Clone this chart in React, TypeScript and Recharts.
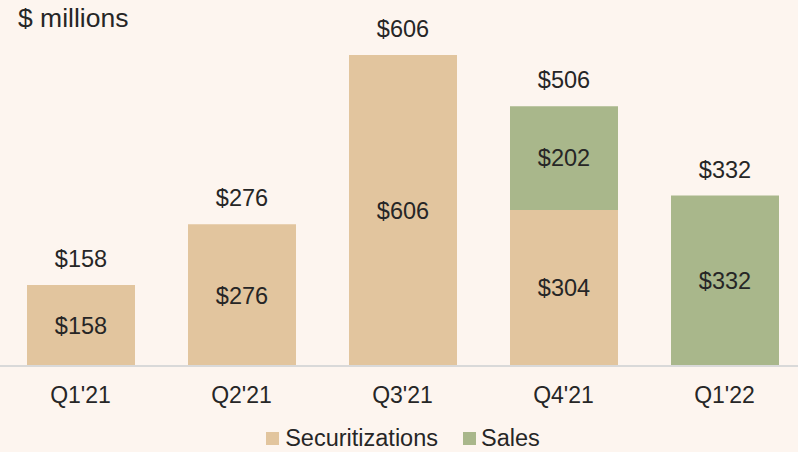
import React from 'react';
import { BarChart, Bar, XAxis, YAxis, LabelList, Legend } from 'recharts';

const categories = ["Q1'21", "Q2'21", "Q3'21", "Q4'21", "Q1'22"];
const securitizations: (number | null)[] = [158, 276, 606, 304, null];
const sales: (number | null)[] = [null, null, null, 202, 332];

const SEC_COLOR = '#e2c59e';
const SALES_COLOR = '#a9b78b';
const TEXT_COLOR = '#262626';
const FONT = '"Liberation Sans", Arial, sans-serif';

const data = categories.map((c, i) => {
  const s = securitizations[i];
  const sa = sales[i];
  const total = (s ?? 0) + (sa ?? 0);
  return {
    name: c,
    securitizations: s,
    sales: sa,
    secTop: sa == null ? total : undefined,
    salesTop: sa != null ? total : undefined,
  };
});

const fmt = (v: any) => (v == null ? '' : `$${v}`);

const LegendContent = () => (
  <div
    style={{
      display: 'flex',
      justifyContent: 'center',
      alignItems: 'center',
      fontFamily: FONT,
      fontSize: 23.5,
      lineHeight: '24px',
      color: TEXT_COLOR,
    }}
  >
    <span style={{ display: 'inline-block', width: 13, height: 13, background: SEC_COLOR, marginRight: 6 }} />
    <span style={{ marginRight: 25 }}>Securitizations</span>
    <span style={{ display: 'inline-block', width: 13, height: 13, background: SALES_COLOR, marginRight: 5 }} />
    <span>Sales</span>
  </div>
);

export default function App() {
  return (
    <div
      style={{
        position: 'absolute',
        left: 0,
        top: 0,
        width: 798,
        height: 452,
        overflow: 'hidden',
        background: '#fdf5ef',
      }}
    >
      <div
        style={{
          position: 'absolute',
          left: 18,
          top: 3,
          fontFamily: FONT,
          fontSize: 26.5,
          lineHeight: '30px',
          color: TEXT_COLOR,
          whiteSpace: 'nowrap',
        }}
      >
        $ millions
      </div>
      <BarChart
        width={805}
        height={452}
        data={data}
        margin={{ top: 55, right: 0, bottom: 56, left: 0 }}
        barSize={108}
        style={{ fontFamily: FONT }}
      >
        <XAxis
          dataKey="name"
          axisLine={{ stroke: '#d9d9d9', strokeWidth: 2 }}
          tickLine={false}
          tickSize={0}
          tickMargin={21}
          tick={{ fill: TEXT_COLOR, fontSize: 23, fontFamily: FONT }}
          interval={0}
        />
        <YAxis hide domain={[0, 606]} />
        <Legend
          verticalAlign="middle"
          align="center"
          layout="horizontal"
          wrapperStyle={{ top: 426, left: 4, width: 798 }}
          content={() => <LegendContent />}
        />
        <Bar dataKey="securitizations" name="Securitizations" stackId="a" fill={SEC_COLOR} isAnimationActive={false}>
          <LabelList
            dataKey="securitizations"
            position="center"
            formatter={fmt}
            style={{ fill: TEXT_COLOR, fontSize: 23.5, fontFamily: FONT }}
          />
          <LabelList
            dataKey="secTop"
            position="top"
            offset={18}
            formatter={fmt}
            style={{ fill: TEXT_COLOR, fontSize: 23.5, fontFamily: FONT }}
          />
        </Bar>
        <Bar dataKey="sales" name="Sales" stackId="a" fill={SALES_COLOR} isAnimationActive={false}>
          <LabelList
            dataKey="sales"
            position="center"
            formatter={fmt}
            style={{ fill: TEXT_COLOR, fontSize: 23.5, fontFamily: FONT }}
          />
          <LabelList
            dataKey="salesTop"
            position="top"
            offset={18}
            formatter={fmt}
            style={{ fill: TEXT_COLOR, fontSize: 23.5, fontFamily: FONT }}
          />
        </Bar>
      </BarChart>
    </div>
  );
}
